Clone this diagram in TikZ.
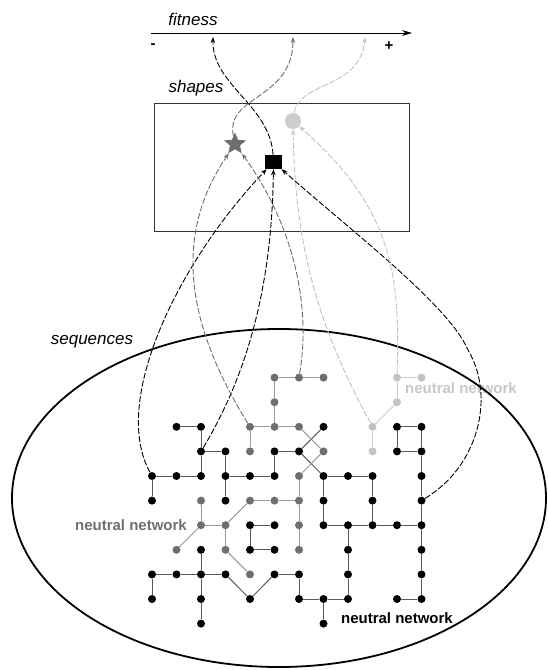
\documentclass[tikz,border=0pt]{standalone}
\usepackage{fontspec}
\setmainfont{Liberation Sans}
\usetikzlibrary{shapes.geometric, arrows.meta}

\definecolor{midgrey}{gray}{0.43}
\definecolor{lightgrey}{gray}{0.76}

\tikzset{
  dot/.style={circle, inner sep=0pt, minimum size=8pt},
  bdot/.style={dot, fill=black},
  gdot/.style={dot, fill=midgrey},
  ldot/.style={dot, fill=lightgrey},
  bedge/.style={draw=black!65, line width=1pt},
  gedge/.style={draw=black!40, line width=1pt},
  ledge/.style={draw=black!20, line width=1pt},
  link/.style={dash pattern=on 6pt off 2pt, line width=0.9pt, -{Stealth[length=6pt,width=4.5pt]}},
  lbl/.style={font=\fontsize{17}{20}\selectfont\itshape},
  nnet/.style={font=\fontsize{15}{18}\selectfont\bfseries}
}

\begin{document}
\begin{tikzpicture}[x=1pt, y=-1pt]
\useasboundingbox (0,0) rectangle (548,670);
% fitness axis
\coordinate (ax0) at (151,33);
\coordinate (ax1) at (412,33);
\draw[line width=1pt, -{Stealth[length=10pt,width=6pt]}] (ax0) -- (ax1);
\node[lbl] (fit) at (193,19) {fitness};
\node[font=\fontsize{15}{18}\selectfont\bfseries] (lo) at (153,46) {-};
\node[font=\fontsize{15}{18}\selectfont\bfseries] (hi) at (389,46) {+};
\coordinate (f1) at (213,37);
\coordinate (f2) at (293,37);
\coordinate (f3) at (365,37);
% shapes
\node[lbl] (shp) at (196,88) {shapes};
\draw[draw=black!80, line width=1pt] (154,103) rectangle (409,231);
\node[star, star points=5, star point ratio=2.2, fill=midgrey, minimum size=23pt, inner sep=0pt] (st) at (235,144) {};
\node[fill=black, minimum width=17pt, minimum height=14pt, inner sep=0pt] (sq) at (273.5,162) {};
\node[circle, fill=black!20, minimum size=16pt, inner sep=0pt] (ci) at (293,121) {};
% sequences
\node[lbl] (seq) at (92,342) {sequences};
\node[nnet, text=midgrey] (nng) at (131,525) {neutral network};
\node[nnet, text=black!22] (nnl) at (461,388) {neutral network};
\node[nnet] (nnb) at (397,618) {neutral network};
\draw[line width=1.8pt] (279,498) ellipse [x radius=267pt, y radius=169pt];
% network nodes
\foreach \c/\r in {1/3,2/3,7/3,10/3,11/3, 2/4,3/4,5/4,6/4,10/4,11/4,
  0/5,1/5,2/5,3/5,4/5,5/5,7/5,8/5,9/5,11/5, 0/6,3/6,7/6,9/6,11/6,
  4/7,5/7,7/7,8/7,9/7,10/7,11/7, 2/8,4/8,5/8,8/8,11/8,
  0/9,1/9,2/9,3/9,5/9,6/9,8/9,11/9, 0/10,2/10,4/10,6/10,7/10,8/10,10/10,11/10, 2/11,7/11}
  \node[bdot] (n\c-\r) at (152+24.5*\c, 353+24.6*\r) {};
\foreach \c/\r in {5/1,6/1,7/1,5/2,4/3,5/3,6/3,4/4,7/4,6/5,2/6,4/6,5/6,6/6,
  2/7,3/7,6/7,1/8,3/8,6/8,4/9}
  \node[gdot] (n\c-\r) at (152+24.5*\c, 353+24.6*\r) {};
\foreach \c/\r in {10/1,11/1,10/2,9/3,9/4}
  \node[ldot] (n\c-\r) at (152+24.5*\c, 353+24.6*\r) {};
% network edges
\foreach \p/\q in {1-3/2-3, 2-3/2-4, 2-4/3-4, 2-4/2-5, 3-4/3-5, 0-5/1-5, 1-5/2-5,
  3-5/4-5, 4-5/5-5, 5-4/5-5, 5-4/6-4, 6-4/7-3, 6-4/7-5, 0-5/0-6, 3-5/3-6,
  7-5/8-5, 8-5/9-5, 7-5/7-6, 9-5/9-6, 7-6/7-7, 9-6/9-7, 7-7/8-7, 8-7/9-7,
  9-7/10-7, 10-7/11-7, 10-3/11-3, 10-3/10-4, 10-4/11-4, 11-3/11-4, 11-4/11-5,
  11-5/11-6, 11-6/11-7, 4-7/5-7, 4-7/4-8, 4-8/5-8, 8-7/8-8, 8-8/8-9, 8-9/8-10,
  6-10/7-10, 7-10/8-10, 7-10/7-11, 11-7/11-8, 11-8/11-9, 11-9/11-10, 10-10/11-10,
  2-8/2-9, 0-9/1-9, 1-9/2-9, 2-9/3-9, 0-9/0-10, 2-9/2-10, 2-10/2-11,
  3-9/4-10, 4-10/5-9, 5-9/6-9, 6-9/6-10}
  \draw[bedge] (n\p) -- (n\q);
\foreach \p/\q in {5-1/6-1, 6-1/7-1, 5-1/5-2, 5-2/5-3, 4-3/5-3, 5-3/6-3, 4-3/4-4,
  6-3/7-4, 7-4/6-5, 6-5/6-6, 4-6/5-6, 5-6/6-6, 6-6/6-7, 6-7/6-8, 4-6/3-7,
  2-6/2-7, 2-7/3-7, 2-7/1-8, 3-7/3-8, 3-8/4-9}
  \draw[gedge] (n\p) -- (n\q);
\foreach \p/\q in {10-1/11-1, 10-1/10-2, 10-2/9-3, 9-3/9-4}
  \draw[ledge] (n\p) -- (n\q);
% sequences to shapes
\draw[link, black] (n0-5) .. controls (110,400) and (180,260) .. (sq);
\draw[link, black] (n2-4) .. controls (250,370) and (272,280) .. (sq);
\draw[link, black] (n11-6) .. controls (480,465) and (495,395) .. (468,350)
  .. controls (449,305) and (350,230) .. (sq);
\draw[link, midgrey] (n4-3) .. controls (190,330) and (170,240) .. (st);
\draw[link, midgrey] (n6-1) .. controls (312,300) and (290,220) .. (st);
\draw[link, lightgrey] (n9-3) .. controls (320,330) and (295,250) .. (ci);
\draw[link, lightgrey] (n10-1) .. controls (400,280) and (395,210) .. (ci);
% shapes to fitness
\draw[link, black] (sq) .. controls (270,105) and (212,85) .. (f1);
\draw[link, midgrey] (st) .. controls (225,95) and (293,100) .. (f2);
\draw[link, lightgrey] (ci) .. controls (300,80) and (360,90) .. (f3);
\end{tikzpicture}
\end{document}
